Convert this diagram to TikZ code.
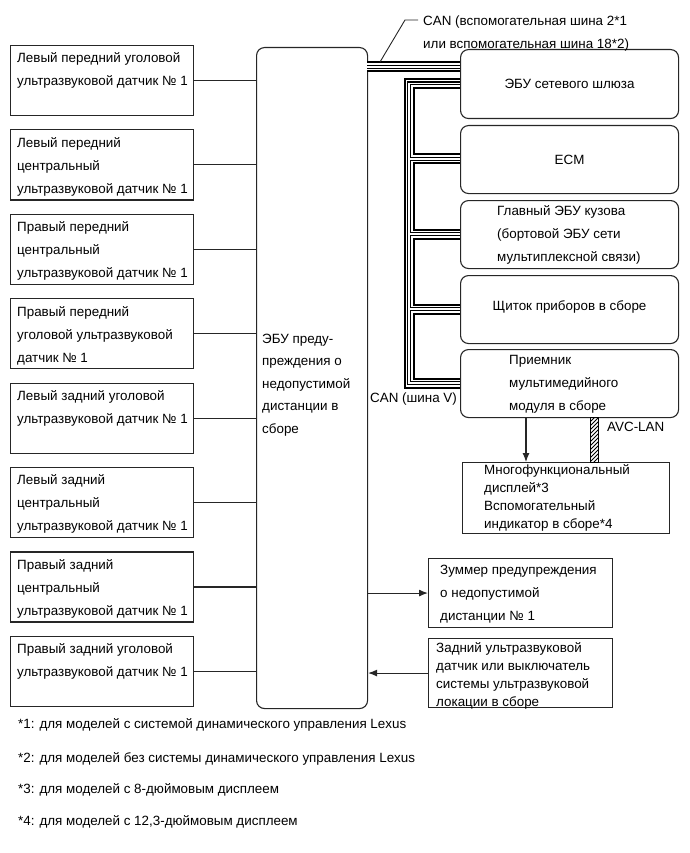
\documentclass[tikz,border=0pt]{standalone}
\usepackage{fontspec}
\setmainfont{Liberation Sans}
\usetikzlibrary{arrows.meta,calc}
\begin{document}
\begin{tikzpicture}[x=1pt,y=-1pt,
  box/.style={draw=black!85, line width=1.1pt, fill=white, inner sep=0pt, anchor=north west},
  rbox/.style={box, rounded corners=8pt},
  txt/.style={anchor=north west, inner sep=0pt, align=left, font=\fontsize{13.4}{23}\selectfont},
  ctxt/.style={inner sep=0pt, font=\fontsize{13.4}{23}\selectfont},
  wire/.style={draw=black!85, line width=1.1pt},
  arr/.style={wire, -{Latex[length=9pt,width=7pt]}},
  busA/.style={draw=black, line width=11pt},
  busB/.style={draw=white, line width=7pt},
  busC/.style={draw=black, line width=4pt},
  busD/.style={draw=white, line width=1.8pt}]
\useasboundingbox (0,0) rectangle (689,853);

% ---------- boxes ----------
\node[rbox, minimum width=111, minimum height=661] (ecu) at (256,47) {};
\foreach \i/\t in {1/45,2/129.4,3/213.8,4/298.2,5/382.6,6/467,7/551.4,8/635.8}
  \node[box, minimum width=183, minimum height=70] (s\i) at (10,\t) {};

\coordinate (vx) at (409,0);
\coordinate (ax) at (526,0);

\path (460,83.5) coordinate (Aw)
      (460,159) coordinate (Bw) (460,234) coordinate (Cw)
      (460,309) coordinate (Dw) (460,383) coordinate (Ew);

% ---------- CAN buses (layered strokes) ----------
\foreach \s in {busA,busB,busC,busD}{
  \draw[\s] (367,67) -- (460,67);
  \draw[\s] (Aw) -- (Aw -| vx) -- (Ew -| vx) -- (Ew);
  \draw[\s] (Bw -| vx) -- (Bw);
  \draw[\s] (Cw -| vx) -- (Cw);
  \draw[\s] (Dw -| vx) -- (Dw);
}

\node[rbox, minimum width=218, minimum height=69] (A) at (460,49) {};
\node[rbox, minimum width=218, minimum height=68] (B) at (460,125) {};
\node[rbox, minimum width=218, minimum height=68] (C) at (460,200) {};
\node[rbox, minimum width=218, minimum height=68] (D) at (460,275) {};
\node[rbox, minimum width=218, minimum height=68] (E) at (460,349) {};
\node[box, minimum width=207, minimum height=71] (disp) at (462,462) {};
\node[box, minimum width=184, minimum height=69] (buz) at (428,558) {};
\node[box, minimum width=184, minimum height=69] (rear) at (428,638) {};

% ---------- sensor connectors ----------
\foreach \i in {1,...,8}
  \draw[wire] (s\i.east) -- (s\i.east -| ecu.west);

% ---------- other connectors ----------
\draw[arr] (E.south -| ax) -- (disp.north -| ax);
\draw[arr] (ecu.east |- buz.west) -- (buz.west);
\draw[arr] (rear.west) -- (rear.west -| ecu.east);
% AVC-LAN hatched bar
\begin{scope}
  \clip (590,417) rectangle (598,462);
  \foreach \k in {0,...,14}
    \draw[line width=0.9pt] (586,470-4*\k) -- (602,454-4*\k);
\end{scope}
\draw[line width=0.9pt] (590,417) rectangle (598,462);

% CAN leader
\coordinate (ld) at (380,62);
\draw[wire, line width=0.9pt] (ld) -- (405,20) -- (418,20);

% ---------- texts ----------
\node[txt] at (17,52.8) {Левый передний уголовой\\ультразвуковой датчик № 1};
\node[txt] at (17,137.2) {Левый передний\\центральный\\ультразвуковой датчик № 1};
\node[txt] at (17,221.6) {Правый передний\\центральный\\ультразвуковой датчик № 1};
\node[txt] at (17,306) {Правый передний\\уголовой ультразвуковой\\датчик № 1};
\node[txt] at (17,390.4) {Левый задний уголовой\\ультразвуковой датчик № 1};
\node[txt] at (17,474.8) {Левый задний\\центральный\\ультразвуковой датчик № 1};
\node[txt] at (17,559.2) {Правый задний\\центральный\\ультразвуковой датчик № 1};
\node[txt] at (17,643.6) {Правый задний уголовой\\ультразвуковой датчик № 1};

\node[txt, font=\fontsize{13.4}{22.5}\selectfont] at (262,333.8) {ЭБУ преду-\\преждения о\\недопустимой\\дистанции в\\сборе};

\node[ctxt] at (A.center) {ЭБУ сетевого шлюза};
\node[ctxt] at (B.center) {ECM};
\node[txt] at (497,205.8) {Главный ЭБУ кузова\\(бортовой ЭБУ сети\\мультиплексной связи)};
\node[ctxt] at ($(D.center)+(0,-3)$) {Щиток приборов в сборе};
\node[txt] at (509,354.8) {Приемник\\мультимедийного\\модуля в сборе};
\node[txt, font=\fontsize{13.4}{18}\selectfont] at (484,464.8) {Многофункциональный\\дисплей*3\\Вспомогательный\\индикатор в сборе*4};
\node[txt] at (440,564.8) {Зуммер предупреждения\\о недопустимой\\дистанции № 1};
\node[txt, font=\fontsize{13.4}{18}\selectfont] at (436,642.8) {Задний ультразвуковой\\датчик или выключатель\\системы ультразвуковой\\локации в сборе};

\node[txt] at (423,15.8) {CAN (вспомогательная шина 2*1\\или вспомогательная шина 18*2)};
\node[ctxt, anchor=west] at (370,399) {CAN (шина V)};
\node[ctxt, anchor=west] at (607,427) {AVC-LAN};

\foreach \y/\t in {725/{*1: для моделей с системой динамического управления Lexus},
                   759/{*2: для моделей без системы динамического управления Lexus},
                   790/{*3: для моделей с 8-дюймовым дисплеем},
                   822/{*4: для моделей с 12,3-дюймовым дисплеем}}
  \node[ctxt, anchor=west] at (18,\y) {\t};
\end{tikzpicture}
\end{document}
